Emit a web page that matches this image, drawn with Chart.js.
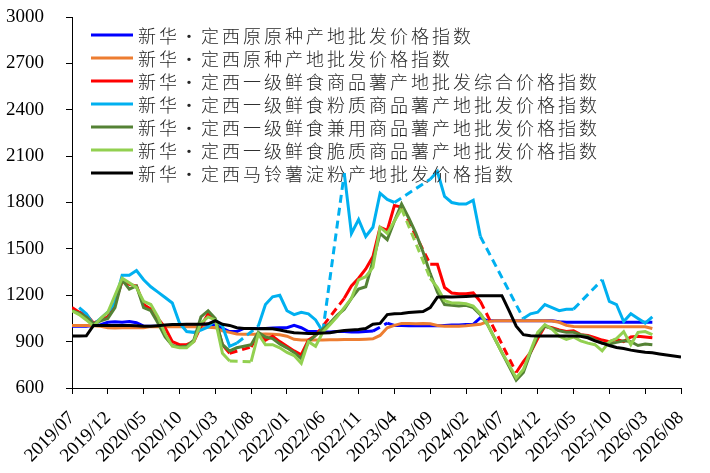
<!DOCTYPE html>
<html>
<head>
<meta charset="utf-8">
<script src="https://cdn.jsdelivr.net/npm/chart.js@4.4.1/dist/chart.umd.min.js"></script>
<style>
html,body{margin:0;padding:0;background:#fff;}
#wrap{width:710px;height:473px;}
</style>
</head>
<body>
<div id="wrap"><canvas id="c" width="710" height="473"></canvas></div>
<script>
// Tick labels every 5 months from 2019/07 (month index 0) to 2026/08 (index 85)
const tickLabels = ["2019/07","2019/12","2020/05","2020/10","2021/03","2021/08","2022/01","2022/06","2022/11","2023/04","2023/09","2024/02","2024/07","2024/12","2025/05","2025/10","2026/03","2026/08"];

const seriesNames = [
  "新华•定西原原种产地批发价格指数",
  "新华•定西原种产地批发价格指数",
  "新华•定西一级鲜食商品薯产地批发综合价格指数",
  "新华•定西一级鲜食粉质商品薯产地批发价格指数",
  "新华•定西一级鲜食兼用商品薯产地批发价格指数",
  "新华•定西一级鲜食脆质商品薯产地批发价格指数",
  "新华•定西马铃薯淀粉产地批发价格指数"
];
const seriesColors = ["#0000FF","#ED7D31","#FF0000","#00B0F0","#548235","#92D050","#000000"];

// monthly values, index 0 = 2019/07 ... index 85 = 2026/08 (null = gap)
const eliteSeed = [1000,1000,1000,1005,1010,1025,1028,1025,1030,1022,1000,1000,1000,1000,1002,1000,1000,1000,1003,1000,1010,985,965,965,985,985,985,985,988,990,990,1005,990,965,965,962,963,965,965,963,962,965,968,null,1020,1005,1005,1003,1005,1003,1005,1003,1005,1007,1008,1010,1012,1055,1035,1035,1035,1035,1035,1035,1035,1035,1035,1035,1028,1025,1025,1025,1025,1025,1025,1025,1025,1025,1025,1025,1025,1025,null,null,null,null];
const basicSeed = [1005,1005,1005,1003,1000,990,988,990,992,990,990,997,997,997,997,997,997,997,995,993,990,970,960,950,948,948,948,950,948,945,935,915,910,910,910,910,912,912,913,913,913,915,918,940,990,1005,1018,1018,1015,1018,1015,1005,1000,1000,1000,1003,1008,1012,1030,1035,1035,1035,1035,1035,1035,1035,1035,1033,1025,1005,998,996,996,996,996,996,996,996,996,996,996,985,null,null,null,null];
const freshComposite = [1120,1090,1075,1020,1040,1060,1150,1290,1270,1260,1140,1110,1050,990,900,880,880,900,1000,1080,1040,880,825,null,null,865,950,910,935,900,870,840,815,910,940,null,null,null,1180,1260,1310,1370,1450,1640,1620,1780,1770,null,null,null,1400,1400,1250,1215,1210,1210,1215,1160,null,null,null,null,700,770,830,920,1000,990,975,965,970,945,940,925,910,900,915,900,930,935,930,925,null,null,null,null];
const freshStarchy = [null,1120,1080,1010,1050,1090,1150,1330,1330,1360,1300,1255,1220,1185,1150,1020,965,960,975,995,1040,1000,870,890,null,null,1000,1140,1190,1200,1100,1075,1090,1080,1040,965,null,null,1990,1600,1690,1580,1640,1860,1820,1800,null,null,null,null,1950,2000,1840,1800,1790,1790,1815,1580,null,null,null,null,null,1050,1080,1090,1140,1120,1100,1110,1110,null,null,null,1300,1160,1140,1030,1080,1050,1020,1060,null,null,null,null];
const freshDual = [1100,1085,1060,1015,1035,1050,1120,1300,1240,1260,1120,1100,1020,930,875,865,870,910,1060,1100,1050,880,840,860,870,880,960,930,920,885,860,830,790,900,940,980,1020,1070,1110,1180,1240,1255,1420,1600,1560,1680,1790,1700,1600,1480,1340,1220,1140,1135,1130,1135,1120,1075,1010,920,830,740,650,700,830,940,1000,985,970,960,960,945,935,910,890,885,895,905,900,875,885,880,null,null,null,null];
const freshCrisp = [1100,1075,1040,1000,1050,1090,1200,1310,1280,1250,1160,1140,1060,950,870,860,860,900,1020,1060,1040,824,775,null,null,770,950,880,880,860,830,810,760,900,870,960,1010,1060,1120,1180,1300,1320,1380,1640,1600,1680,1760,null,null,null,1310,1250,1165,1150,1150,1145,1130,1080,1010,920,830,750,665,720,840,960,1010,980,935,915,930,905,890,880,840,900,920,965,880,960,965,945,null,null,null,null];
const starch = [936,936,938,1005,1005,1005,1005,1005,1005,1002,1000,1000,1003,1007,1010,1010,1012,1012,1012,1015,1035,1012,1005,990,985,985,983,985,983,975,965,958,955,953,953,955,958,965,972,975,978,985,1012,1018,1075,1080,1082,1088,1092,1095,1120,1188,1190,1188,1190,1192,1195,1197,1197,1197,1197,1100,1000,945,938,936,936,936,936,936,936,934,925,905,890,875,862,855,845,838,832,828,820,813,807,800];

const allSeries = [eliteSeed, basicSeed, freshComposite, freshStarchy, freshDual, freshCrisp, starch];

const gapDash = (ctx) => (ctx.p0.skip || ctx.p1.skip) ? [8, 5] : undefined;

const datasets = allSeries.map((vals, i) => ({
  label: seriesNames[i],
  data: vals.map((v, m) => ({x: m, y: v})),
  borderColor: seriesColors[i],
  backgroundColor: seriesColors[i],
  borderWidth: 3,
  pointRadius: 0,
  pointHoverRadius: 0,
  tension: 0,
  spanGaps: true,
  fill: false,
  order: allSeries.length - i,
  segment: { borderDash: gapDash }
}));

const insideLegend = {
  id: 'insideLegend',
  afterDatasetsDraw(chart) {
    const ctx = chart.ctx;
    const area = chart.chartArea;
    ctx.save();
    ctx.font = '300 18px "Noto Sans CJK SC"';
    ctx.textBaseline = 'middle';
    ctx.textAlign = 'left';
    try { ctx.letterSpacing = '3px'; } catch (e) {}
    chart.data.datasets.forEach((ds, i) => {
      const y = area.top + 18 + i * 23;
      const x0 = area.left + 19;
      ctx.setLineDash([]);
      ctx.strokeStyle = ds.borderColor;
      ctx.lineWidth = 3;
      ctx.beginPath();
      ctx.moveTo(x0, y);
      ctx.lineTo(x0 + 42, y);
      ctx.stroke();
      ctx.fillStyle = '#262626';
      ctx.fillText(ds.label, x0 + 47, y + 1);
    });
    ctx.restore();
  }
};

new Chart(document.getElementById('c'), {
  type: 'line',
  data: { datasets },
  plugins: [insideLegend],
  options: {
    responsive: false,
    animation: false,
    events: [],
    layout: { padding: { top: 17, right: 29, left: 0, bottom: 0 } },
    plugins: { legend: { display: false }, tooltip: { enabled: false } },
    scales: {
      x: {
        type: 'linear',
        min: 0,
        max: 85,
        afterFit(scale) { scale.height = 85; scale.paddingLeft = 0; scale.paddingRight = 0; },
        afterBuildTicks(scale) {
          scale.ticks = tickLabels.map((_, k) => ({ value: k * 5 }));
        },
        ticks: {
          autoSkip: false,
          minRotation: 45,
          maxRotation: 45,
          padding: 13,
          color: '#000',
          font: { family: '"Liberation Serif", "Times New Roman", serif', size: 19 },
          callback: (v) => tickLabels[Math.round(v / 5)]
        },
        grid: { display: true, drawOnChartArea: false, drawTicks: true, tickLength: 6, color: '#000', lineWidth: 1 },
        border: { display: true, color: '#000', width: 1 }
      },
      y: {
        min: 600,
        max: 3000,
        afterFit(scale) { scale.width = 72; scale.paddingTop = 0; scale.paddingBottom = 0; },
        ticks: {
          stepSize: 300,
          padding: 22,
          color: '#000',
          font: { family: '"Liberation Serif", "Times New Roman", serif', size: 19 },
          callback: (v) => String(v)
        },
        grid: { display: true, drawOnChartArea: false, drawTicks: true, tickLength: 6, color: '#000', lineWidth: 1 },
        border: { display: true, color: '#000', width: 1 }
      }
    }
  }
});
</script>
</body>
</html>
